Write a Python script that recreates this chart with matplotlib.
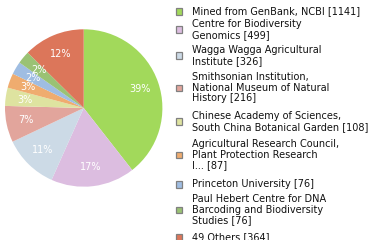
import matplotlib.pyplot as plt
from matplotlib.patches import Rectangle

# data
labels = [
    ['Mined from GenBank, NCBI [1141]'],
    ['Centre for Biodiversity', 'Genomics [499]'],
    ['Wagga Wagga Agricultural', 'Institute [326]'],
    ['Smithsonian Institution,', 'National Museum of Natural', 'History [216]'],
    ['Chinese Academy of Sciences,', 'South China Botanical Garden [108]'],
    ['Agricultural Research Council,', 'Plant Protection Research', 'I... [87]'],
    ['Princeton University [76]'],
    ['Paul Hebert Centre for DNA', 'Barcoding and Biodiversity', 'Studies [76]'],
    ['49 Others [364]'],
]
counts = [1141, 499, 326, 216, 108, 87, 76, 76, 364]
colors = ['#a2d95b', '#dcbde0', '#ccdae6', '#e2a59c', '#dee3a0',
          '#efac6f', '#9fbde2', '#9ac274', '#dc765a']

W, H = 380, 240
fig = plt.figure(figsize=(3.8, 2.4), dpi=100)

# pie, centre (83.7, 108) px, radius 78.7 px
cx, cy, r = 83.7, 108, 78.7
ax = fig.add_axes([(cx - r) / W, (H - cy - r) / H, 2 * r / W, 2 * r / H])
total = sum(counts)
wedges, texts = ax.pie(counts, colors=colors, startangle=90, counterclock=False,
                       labels=['%d%%' % int(c * 100 / total) for c in counts],
                       labeldistance=0.75,
                       textprops=dict(color='white', fontsize=7, ha='center', va='center'),
                       wedgeprops=dict(linewidth=0))
ax.set_xlim(-1, 1)
ax.set_ylim(-1, 1)
ax.set_aspect('equal')
ax.axis('off')

# legend, placed by hand in pixel coords
first_line = [11, 24, 50, 77, 116, 144, 184, 199, 237]
step = 10.7
for lines, y0, c in zip(labels, first_line, colors):
    for i, line in enumerate(lines):
        fig.text(192 / W, 1 - (y0 + i * step) / H, line, fontsize=7,
                 color='#111111', va='center', ha='left')
    yc = y0 + (len(lines) - 1) * step / 2
    fig.patches.append(Rectangle((175.5 / W, 1 - (yc + 3.5) / H), 6.5 / W, 6.5 / H,
                                 facecolor=c, edgecolor='#808080', linewidth=0.9,
                                 transform=fig.transFigure, figure=fig))

fig.savefig('out.png', dpi=100)
